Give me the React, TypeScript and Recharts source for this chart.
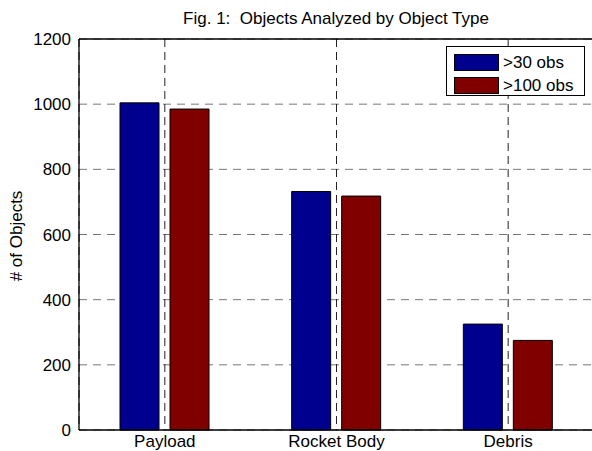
import React from 'react';
import { BarChart, Bar, XAxis, YAxis, CartesianGrid, ReferenceLine, Legend } from 'recharts';

const categories = ['Payload', 'Rocket Body', 'Debris'];
const over30 = [1004, 732, 325];
const over100 = [985, 718, 275];
const yTicks = [0, 200, 400, 600, 800, 1000, 1200];

const seriesNames = ['>30 obs', '>100 obs'];
const seriesColors = ['#00008f', '#800000'];

const data = categories.map((name, i) => ({ name, a: over30[i], b: over100[i] }));

const font = '"Liberation Sans", Arial, sans-serif';

const LegendBox = () => (
  <div
    style={{
      border: '1px solid #000',
      background: '#fff',
      width: 139,
      height: 50,
      boxSizing: 'border-box',
      padding: '4px 0 0 7px',
      fontFamily: font,
      fontSize: 17,
      color: '#000',
    }}
  >
    {seriesNames.map((n, i) => (
      <div key={n} style={{ display: 'flex', alignItems: 'center', height: 23 }}>
        <div
          style={{
            width: 45,
            height: 17,
            background: seriesColors[i],
            border: '1px solid #000',
            boxSizing: 'border-box',
            marginRight: 4,
          }}
        />
        <span>{n}</span>
      </div>
    ))}
  </div>
);

const App: React.FC = () => {
  return (
    <div style={{ position: 'absolute', left: 0, top: 0, width: 592, height: 451, overflow: 'hidden', background: '#fff' }}>
      <div
        style={{
          position: 'absolute',
          left: 0,
          width: 672,
          top: 9,
          textAlign: 'center',
          fontFamily: font,
          fontSize: 17,
          color: '#000',
          whiteSpace: 'pre',
        }}
      >
        {'Fig. 1:  Objects Analyzed by Object Type'}
      </div>
      <div
        style={{
          position: 'absolute',
          left: 17,
          top: 236,
          transform: 'translate(-50%, -50%) rotate(-90deg)',
          fontFamily: font,
          fontSize: 17,
          color: '#000',
          whiteSpace: 'nowrap',
        }}
      >
        # of Objects
      </div>
      <BarChart
        width={594}
        height={451}
        data={data}
        margin={{ top: 39, right: 0, left: 0, bottom: 0 }}
        barSize={39}
        barGap={11}
        style={{ position: 'absolute', left: 0, top: 0 }}
      >
        <CartesianGrid horizontal={true} vertical={false} stroke="#777" strokeDasharray="8 6" />
        <CartesianGrid horizontal={false} vertical={true} stroke="#222" strokeDasharray="8 5" />
        <XAxis
          dataKey="name"
          height={21}
          axisLine={{ stroke: '#000', strokeWidth: 1.3 }}
          tickLine={false}
          tickSize={0}
          tickMargin={5}
          tick={{ fontSize: 17, fill: '#000', fontFamily: font }}
        />
        <YAxis
          width={79}
          domain={[0, 1200]}
          ticks={yTicks}
          axisLine={{ stroke: '#000', strokeWidth: 1.3 }}
          tickLine={false}
          tickSize={0}
          tickMargin={8}
          tick={{ fontSize: 17, fill: '#000', fontFamily: font }}
        />
        <ReferenceLine y={1200} stroke="#000" strokeWidth={1.3} />
        <Legend
          layout="horizontal"
          verticalAlign="middle"
          align="center"
          content={() => <LegendBox />}
          wrapperStyle={{ position: 'absolute', left: 446, top: 46, width: 140, height: 52 }}
        />
        <Bar dataKey="a" name={seriesNames[0]} fill={seriesColors[0]} stroke="#000" strokeWidth={1} isAnimationActive={false} />
        <Bar dataKey="b" name={seriesNames[1]} fill={seriesColors[1]} stroke="#000" strokeWidth={1} isAnimationActive={false} />
      </BarChart>
    </div>
  );
};

export default App;
